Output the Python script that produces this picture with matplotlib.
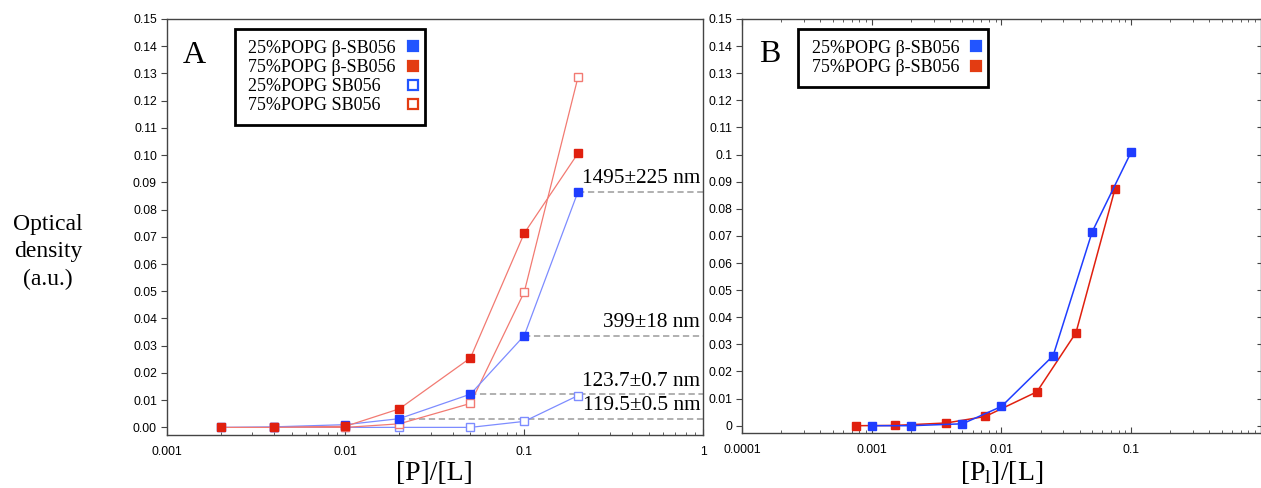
import numpy as np
import matplotlib
matplotlib.use("Agg")
import matplotlib.pyplot as plt
from matplotlib.lines import Line2D

plt.rcParams['font.family'] = ['Liberation Sans', 'DejaVu Sans']

SERIF = ['Liberation Serif', 'DejaVu Serif']

# panel A: [P]/[L]
xa = [0.002, 0.004, 0.01, 0.02, 0.05, 0.1, 0.2]
a_25_beta = [0.0, 0.0002, 0.001, 0.0032, 0.0122, 0.0337, 0.0866]
a_75_beta = [0.0, 0.0, 0.0004, 0.0068, 0.0255, 0.0713, 0.1007]
xa_open = [0.004, 0.01, 0.02, 0.05, 0.1, 0.2]
a_25_sb = [0.0002, 0.0, 0.0, 0.0, 0.0022, 0.0117]
a_75_sb = [0.0002, 0.0, 0.0013, 0.0088, 0.0497, 0.1287]

# size annotations (from the 25% beta-SB056 series)
size_x = [0.2, 0.1, 0.05, 0.02]
size_y = [0.0866, 0.0337, 0.0122, 0.0032]
size_lab = ['1495±225 nm', '399±18 nm', '123.7±0.7 nm', '119.5±0.5 nm']

# panel B: [P_l]/[L]
xb_25 = [0.001, 0.002, 0.005, 0.01, 0.025, 0.05, 0.1]
b_25 = [0.0, 0.0, 0.0007, 0.0071, 0.0258, 0.0715, 0.101]
xb_75 = [0.00075, 0.0015, 0.00375, 0.0075, 0.01875, 0.0375, 0.075]
b_75 = [0.0, 0.0001, 0.001, 0.0034, 0.0125, 0.0343, 0.0874]

labels = ['25%POPG β-SB056', '75%POPG β-SB056', '25%POPG SB056', '75%POPG SB056']

BLUE = '#1f3dff'
RED = '#e0200f'
BLUE_L = '#7d8cff'
RED_L = '#f27a72'
SPINE = '#444444'

fig = plt.figure(figsize=(12.61, 4.88), dpi=100)
axA = fig.add_axes([0.1322, 0.1086, 0.4253, 0.8525])
axB = fig.add_axes([0.5884, 0.1121, 0.4116, 0.849])

ms = 5.2
axA.plot(xa_open, a_25_sb, color=BLUE_L, lw=0.9, marker='s', ms=ms,
         mfc='white', mec=BLUE_L, mew=1.0, zorder=3)
axA.plot(xa_open, a_75_sb, color=RED_L, lw=0.9, marker='s', ms=ms,
         mfc='white', mec=RED_L, mew=1.0, zorder=3)
axA.plot(xa, a_25_beta, color=BLUE_L, lw=0.9, marker='s', ms=ms,
         mfc=BLUE, mec=BLUE, zorder=4)
axA.plot(xa, a_75_beta, color=RED_L, lw=0.9, marker='s', ms=ms,
         mfc=RED, mec=RED, zorder=5)

for x, y, lab in zip(size_x, size_y, size_lab):
    axA.plot([x, 1.0], [y, y], color='#aaaaaa', lw=1.3, ls=(0, (3.5, 2)), zorder=2)
    axA.annotate(lab, xy=(0.995, y), xycoords=('axes fraction', 'data'),
                 xytext=(0, 2.5), textcoords='offset points',
                 ha='right', va='bottom', fontsize=15.3, family=SERIF)

axB.plot(xb_25, b_25, color=BLUE, lw=1.1, marker='s', ms=5.6, mfc=BLUE, mec=BLUE, zorder=4)
axB.plot(xb_75, b_75, color=RED, lw=1.1, marker='s', ms=5.6, mfc=RED, mec=RED, zorder=3)

for ax in (axA, axB):
    ax.set_xscale('log')
    ax.set_ylim(-0.0028, 0.15)
    for s in ax.spines.values():
        s.set_color(SPINE)
        s.set_linewidth(1.0)
    ax.tick_params(axis='y', direction='out', length=4.5, width=0.8, color=SPINE,
                   labelsize=8.8, pad=2.5)
    ax.tick_params(axis='x', which='major', direction='in', length=4.5, width=0.8,
                   color=SPINE, labelsize=8.8, pad=8)
    ax.tick_params(axis='x', which='minor', direction='in', length=2.5, width=0.6,
                   color=SPINE)
    ax.set_yticks(np.arange(0, 0.1501, 0.01))

axA.set_xlim(0.001, 1)
axA.set_xticks([0.001, 0.01, 0.1, 1])
axA.set_xticklabels(['0.001', '0.01', '0.1', '1'])
axA.set_yticklabels(['%.2f' % v for v in np.arange(0, 0.1501, 0.01)])

axB.set_xlim(0.0001, 1)
axB.set_xticks([0.0001, 0.001, 0.01, 0.1])
axB.set_xticklabels(['0.0001', '0.001', '0.01', '0.1'])
axB.set_yticklabels(['0'] + ['%g' % round(v, 2) for v in np.arange(0.01, 0.1501, 0.01)])
axB.tick_params(axis='x', which='both', top=True)
axB.tick_params(axis='y', which='both', right=True)
for t in axB.yaxis.get_major_ticks():
    t.tick2line.set_marker(matplotlib.markers.TICKLEFT)
    t.tick2line.set_markersize(3)

axA.text(0.03, 0.895, 'A', transform=axA.transAxes, fontsize=23, family=SERIF,
         ha='left', va='baseline')
axB.text(0.032, 0.895, 'B', transform=axB.transAxes, fontsize=23, family=SERIF,
         ha='left', va='baseline')

axA.set_xlabel('[P]/[L]', fontsize=20, family=SERIF, labelpad=2)
axB.set_xlabel(r'$\mathregular{[P_l]/[L]}$', fontsize=20, family=SERIF, labelpad=2)
fig.text(0.038, 0.484, 'Optical\ndensity\n(a.u.)', fontsize=17, family=SERIF,
         ha='center', va='center', linespacing=1.4)


def make_legend(ax, specs, labs, anchor):
    blank = [Line2D([], [], ls='none', marker=None) for _ in labs]
    marks = [Line2D([], [], ls='none', marker='s', ms=7.5, mfc=fc, mec=ec, mew=1.6)
             for fc, ec in specs]
    leg = ax.legend(blank + marks, list(labs) + [''] * len(labs), ncol=2,
                    loc='upper left', bbox_to_anchor=anchor, borderaxespad=0,
                    fancybox=False, edgecolor='black', framealpha=1,
                    prop={'family': SERIF, 'size': 13}, labelspacing=0.12,
                    handlelength=0.15, handletextpad=0.0, columnspacing=0.85,
                    borderpad=0.6)
    leg.get_frame().set_linewidth(2)
    return leg


make_legend(axA, [('#2255ff', '#2255ff'), ('#e33c12', '#e33c12'),
                  ('white', '#2255ff'), ('white', '#e33c12')],
            labels, (0.127, 0.976))
make_legend(axB, [('#2255ff', '#2255ff'), ('#e33c12', '#e33c12')],
            labels[:2], (0.108, 0.976))

fig.savefig('out.png', dpi=100)
